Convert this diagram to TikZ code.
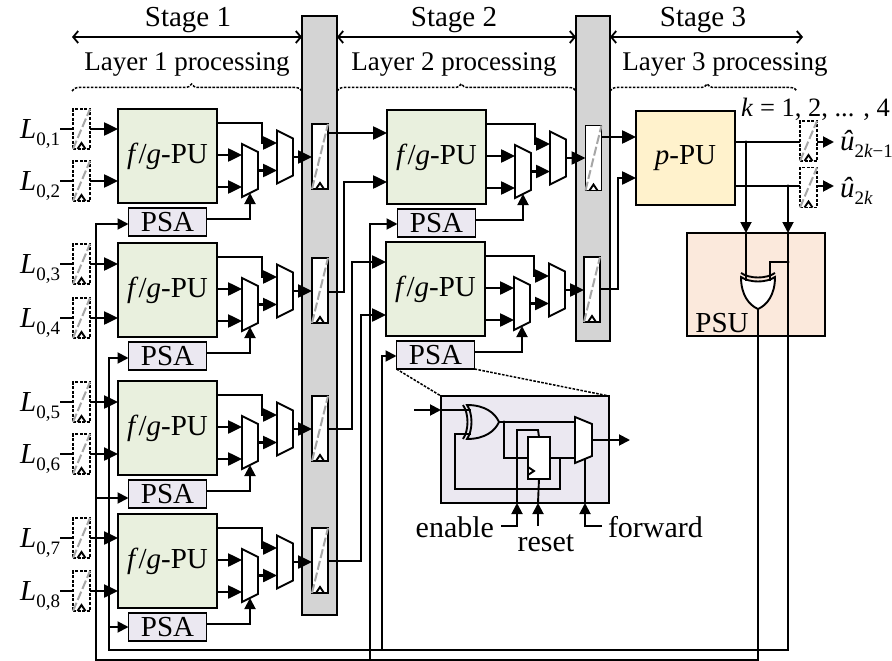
\documentclass[tikz,border=0pt]{standalone}
\usepackage{fontspec}
\setmainfont{Liberation Serif}
\usetikzlibrary{arrows.meta, positioning, calc, decorations.pathreplacing}
\definecolor{pugreen}{RGB}{233,240,222}
\definecolor{psagray}{RGB}{235,232,241}
\definecolor{bargray}{RGB}{212,212,212}
\definecolor{ppuyellow}{RGB}{255,242,204}
\definecolor{psuorange}{RGB}{251,233,220}

\tikzset{
  lab/.style={font=\fontsize{27}{30}\selectfont, inner sep=0pt, outer sep=0pt},
  biglab/.style={font=\fontsize{29}{30}\selectfont, inner sep=0pt, outer sep=0pt},
  ctrllab/.style={font=\fontsize{30}{30}\selectfont, inner sep=0pt, outer sep=0pt},
  edge/.style={draw, line width=1.9pt, inner sep=0pt, outer sep=0pt},
  pubox/.style={edge, biglab, fill=pugreen, minimum width=99pt, minimum height=94pt},
  psabox/.style={edge, biglab, fill=psagray, minimum width=78pt, minimum height=28pt},
  barbox/.style={edge, fill=bargray, minimum width=35pt},
  regbox/.style={edge, fill=white, minimum width=16pt, minimum height=65pt},
  dashreg/.style={edge, dash pattern=on 3pt off 1.6pt, minimum width=17pt, minimum height=40pt},
  muxbase/.style={inner sep=0pt, outer sep=0pt, minimum width=16pt, minimum height=53pt},
  wire/.style={line width=1.9pt},
  hwire/.style={line width=2.5pt},
  bigtip/.style={-{Triangle[length=14pt,width=13pt]}},
  smalltip/.style={-{Triangle[length=11pt,width=11pt]}},
  slash/.style={black!35, line width=2pt, dash pattern=on 9pt off 3pt},
  dots/.style={line width=1.5pt, dash pattern=on 2.6pt off 1.4pt},
  bracetop/.style={dots, decorate, decoration={brace, amplitude=7pt, aspect=0.52}},
  spanarrow/.style={line width=1.8pt, {Straight Barb[length=5pt,width=12pt]}-{Straight Barb[length=5pt,width=12pt]}},
}

\newcommand{\muxdraw}[1]{
  \draw[wire, fill=white] (#1.north west) -- ($(#1.north east)+(0,8)$) -- ($(#1.south east)+(0,-8)$) -- (#1.south west) -- cycle;
}
\newcommand{\pipereg}[1]{
  \draw[slash] (#1.south west) -- (#1.north east);
  \draw[wire] ($(#1.south)+(-4,0)$) -- ($(#1.south)+(0,-6)$) -- ($(#1.south)+(4,0)$);
}
% name, x, y, angle, fill
\newcommand{\xorshape}[5]{
  \begin{scope}[shift={(#2,#3)}, rotate=#4]
    \draw[wire, fill=#5] (-16,-17) .. controls (2,-17) and (12,-9) .. (16,0) .. controls (12,9) and (2,17) .. (-16,17) .. controls (-10,8) and (-10,-8) .. (-16,-17) -- cycle;
    \draw[wire] (-20,-17) .. controls (-14,-8) and (-14,8) .. (-20,17);
    \coordinate (#1-in1) at (-12,-12);
    \coordinate (#1-in2) at (-12,12);
    \coordinate (#1-out) at (16,0);
  \end{scope}
}
% name, left x, top y, extra gap before the muxes
\newcommand{\puunit}[4]{
  \node[pubox] (pu#1) at (#2+49.5,#3+47) {\textit{f}/\textit{g}-PU};
  \node[psabox] (psa#1) at (#2+49.5,#3+113) {PSA};
  \node[muxbase] (muxa#1) at (#2+132+#4,#3+61.5) {};
  \node[muxbase] (muxb#1) at (#2+167+#4,#3+48) {};
  \muxdraw{muxa#1}
  \muxdraw{muxb#1}
  \draw[hwire, bigtip] ($(pu#1.north east)+(0,14)$) -| ($(muxb#1.west)+(-15,-14)$) -- ($(muxb#1.west)+(0,-14)$);
  \draw[hwire, bigtip] ($(pu#1.north east)+(0,46)$) -- ($(muxa#1.west)+(0,-15.5)$);
  \draw[hwire, bigtip] ($(pu#1.north east)+(0,78)$) -- ($(muxa#1.west)+(0,16.5)$);
  \draw[hwire, bigtip] (muxa#1.east) -- (muxb#1.west |- muxa#1.east);
  \draw[wire, smalltip] ($(psa#1.east)+(0,-3)$) -| ($(muxa#1.south)+(0,-4)$);
}

\begin{document}
\begin{tikzpicture}[x=1pt, y=-1pt]
  \useasboundingbox (0,0) rectangle (892,661);

  % stages
  \node[biglab] (stage1) at (188,20) {Stage 1};
  \node[biglab] (stage2) at (454,20) {Stage 2};
  \node[biglab] (stage3) at (703,20) {Stage 3};
  \node[lab] (layer1) at (187,64) {Layer 1 processing};
  \node[lab] (layer2) at (454,64) {Layer 2 processing};
  \node[lab] (layer3) at (725,64) {Layer 3 processing};
  \node[lab] (kval) at (815.5,109) {\fontsize{26.5}{30}\selectfont\textit{k} = 1, 2, ... , 4};

  % pipeline bars
  \node[barbox, minimum height=599pt] (bara) at (319.5,315.5) {};
  \node[barbox, minimum width=34pt, minimum height=325pt] (barb) at (593,178.5) {};
  \draw[spanarrow] (72,37) -- (bara.west |- 0,37);
  \draw[spanarrow] (bara.east |- 0,37) -- (barb.west |- 0,37);
  \draw[spanarrow] (barb.east |- 0,37) -- ++(193,0);
  \draw[bracetop] (72,91) -- (bara.west |- 0,91);
  \draw[bracetop] (bara.east |- 0,91) -- (barb.west |- 0,91);
  \draw[bracetop] (barb.east |- 0,91) -- (797,91);

  % first and second column
  \puunit{a}{118}{109}{0}
  \puunit{b}{118}{243}{0}
  \puunit{c}{118}{381}{0}
  \puunit{d}{118}{514}{0}
  \puunit{e}{387}{110}{4}
  \puunit{f}{386}{242}{4}

  % input registers and labels
  \foreach \n/\u/\y in {1/a/129, 2/a/181, 3/b/264, 4/b/318, 5/c/402, 6/c/454, 7/d/538, 8/d/591} {
    \node[dashreg] (in\n) at (81.5,\y) {};
    \pipereg{in\n}
    \node[biglab, left=13pt of in\n] (lab\n) {\textit{L}\smash{\raisebox{-7pt}{\fontsize{19}{19}\selectfont 0,\n}}};
    \draw[hwire] (lab\n.east) -- (in\n.west);
    \draw[hwire, bigtip] (in\n.east) -- (pu\u.west |- in\n.east);
  }

  % registers in the bars
  \foreach \r/\x/\y/\u in {ra1/320/156.5/a, ra2/320/290.5/b, ra3/320/428.5/c, ra4/320/560.5/d, rb1/593.5/158/e, rb2/592/289.5/f} {
    \node[regbox] (\r) at (\x,\y) {};
    \pipereg{\r}
    \draw[hwire, bigtip] (muxb\u.east) -- (\r.west |- muxb\u.east);
  }

  \draw[hwire, bigtip] (ra1.east |- 0,133) -- (pue.west |- 0,133);
  \draw[hwire, bigtip] (ra2.east |- 0,292) -| (344,182) -- (pue.west |- 0,182);
  \draw[hwire, bigtip] (ra3.east |- 0,429) -| (352,262) -- (puf.west |- 0,262);
  \draw[hwire, bigtip] (ra4.east |- 0,561) -| (361,315) -- (puf.west |- 0,315);

  % third stage
  \node[pubox, fill=ppuyellow] (ppu) at (685.5,158) {\textit{p}-PU};
  \draw[hwire, bigtip] (rb1.east |- 0,137) -- (ppu.west |- 0,137);
  \draw[hwire, bigtip] (rb2.east |- 0,289) -| (618,178) -- (ppu.west |- 0,178);

  \node[edge, fill=psuorange, minimum width=138pt, minimum height=103pt] (psu) at (756,284.5) {};
  \node[biglab] (psulab) at (722,323) {PSU};
  \xorshape{xorp}{758}{293}{-90}{white}

  \node[dashreg] (out1) at (808.5,141) {};
  \node[dashreg] (out2) at (808.5,187.5) {};
  \pipereg{out1}
  \pipereg{out2}
  \node[biglab, right=23pt of out1, anchor=west] (uhat1) {\textit{\^u}\smash{\raisebox{-7pt}{\fontsize{19}{19}\selectfont 2\textit{k}−1}}};
  \node[biglab, right=23pt of out2, anchor=west] (uhat2) {\textit{\^u}\smash{\raisebox{-7pt}{\fontsize{19}{19}\selectfont 2\textit{k}}}};
  \draw[wire] (ppu.east |- 0,142) -- (out1.west |- 0,142);
  \draw[wire] (ppu.east |- 0,186) -- (out2.west |- 0,186);
  \draw[wire, smalltip] (out1.east |- 0,142) -- ++(17,0);
  \draw[wire, smalltip] (out2.east |- 0,186) -- ++(17,0);

  \fill (xorp-in2 |- 0,142) circle (1.6);
  \draw[wire, smalltip] (xorp-in2 |- 0,142) -- (xorp-in2 |- psu.north);
  \draw[wire] (xorp-in2 |- psu.north) -- (xorp-in2);
  \fill (788,186) circle (1.6);
  \draw[wire, smalltip] (788,186) -- (788,233);
  \fill (788,262) circle (1.6);
  \draw[wire] (xorp-in1) |- (788,262);

  % feedback buses
  \draw[wire, smalltip] (xorp-out) |- (96,660) -- (96,224) -- (psaa.west |- 0,224);
  \draw[wire, smalltip] (96,498) -- (psac.west |- 0,498);
  \draw[wire, smalltip] (370,660) -- (370,224) -- (psae.west |- 0,224);
  \draw[wire, smalltip] (788,233) -- (788,650) -| (109,358) -- (psab.west |- 0,358);
  \draw[wire, smalltip] (109,627) -- (psad.west |- 0,627);
  \draw[wire, smalltip] (382,650) -- (382,356) -- (psaf.west |- 0,356);

  % inside of a PSA
  \node[edge, fill=psagray, minimum width=168pt, minimum height=107pt] (det) at (525,449.5) {};
  \draw[dots] (psaf.south west) -- (det.north west);
  \draw[dots] (psaf.south east) -- (det.north east);
  \xorshape{xord}{483}{422}{0}{psagray}
  \node[edge, fill=white, minimum width=22pt, minimum height=42pt] (dreg) at (539,458) {};
  \draw[wire] (dreg.west |- 0,467) -- (534,471) -- (dreg.west |- 0,475);
  \node[muxbase, minimum width=17pt, minimum height=46pt] (dmux) at (583.5,440) {};
  \draw[wire, fill=white] (dmux.north west) -- ($(dmux.north east)+(0,7)$) -- ($(dmux.south east)+(0,-7)$) -- (dmux.south west) -- cycle;
  \coordinate (din) at (414,410);
  \coordinate (dout) at (630,440);
  \draw[wire, smalltip] (din) -- (det.west |- din);
  \draw[wire] (det.west |- din) -- (xord-in1);
  \draw[wire] (xord-in2) -| (455,489) -| (560,457);
  \draw[wire] (xord-out) -- (dmux.west |- xord-out);
  \fill (504,422) circle (1.6);
  \draw[wire] (504,422) |- (dreg.west);
  \draw[wire] (dreg.east) -- (dmux.west |- dreg.east);
  \draw[wire, smalltip] (dmux.east) -- (dout);

  % control signals
  \node[ctrllab, anchor=east] (enable) at (494,527) {enable};
  \node[ctrllab] (reset) at (546,543) {reset};
  \node[ctrllab, anchor=west] (forward) at (608,527) {forward};
  \draw[wire, smalltip] ($(enable.east)+(7,-1)$) -| (517,503);
  \draw[wire] (517,503) |- (538,430) -- (dreg.north);
  \draw[wire, smalltip] (538,526) -- (538,503);
  \draw[wire] (538,503) -- (dreg.south);
  \draw[wire, smalltip] ($(forward.west)+(-6,-1)$) -| (585,503);
  \draw[wire] (585,503) -- (585,459);
\end{tikzpicture}
\end{document}
